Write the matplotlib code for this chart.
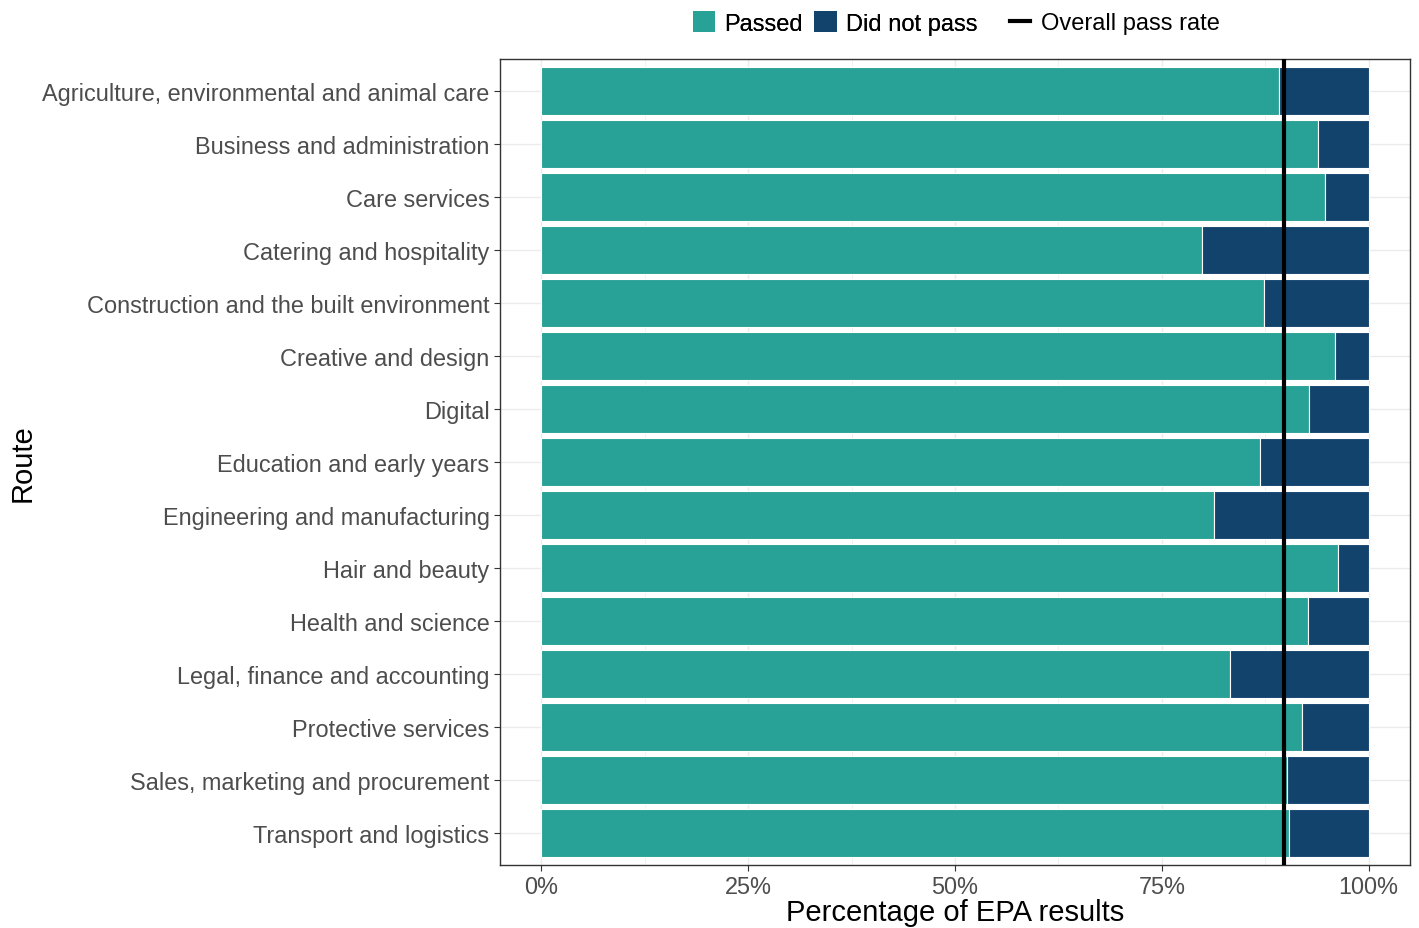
import matplotlib
matplotlib.use("Agg")
import matplotlib.pyplot as plt
from matplotlib.patches import Patch
from matplotlib.lines import Line2D
from matplotlib.ticker import FixedLocator

plt.rcParams['font.family'] = ['Liberation Sans', 'DejaVu Sans']

routes = [
    "Agriculture, environmental and animal care",
    "Business and administration",
    "Care services",
    "Catering and hospitality",
    "Construction and the built environment",
    "Creative and design",
    "Digital",
    "Education and early years",
    "Engineering and manufacturing",
    "Hair and beauty",
    "Health and science",
    "Legal, finance and accounting",
    "Protective services",
    "Sales, marketing and procurement",
    "Transport and logistics",
]
passed = [89.2, 93.9, 94.7, 79.9, 87.3, 95.9, 92.8, 86.9, 81.3, 96.3, 92.7, 83.2, 91.9, 90.1, 90.4]
did_not_pass = [100 - p for p in passed]
overall_pass_rate = 89.8
x_ticks = [0, 25, 50, 75, 100]
x_tick_labels = ["0%", "25%", "50%", "75%", "100%"]

teal = "#28A197"
navy = "#12436D"

fig = plt.figure(figsize=(14.19, 9.29), dpi=100)
ax = fig.add_axes([500/1419, 1-866/929, 910/1419, 806/929])

n = len(routes)
ypos = list(range(n, 0, -1))
ax.barh(ypos, passed, height=0.9, color=teal, edgecolor="white", linewidth=0.8, zorder=2)
ax.barh(ypos, did_not_pass, left=passed, height=0.9, color=navy, edgecolor="white", linewidth=0.8, zorder=2)
ax.axvline(overall_pass_rate, color="black", linewidth=3, zorder=3)

ax.set_xlim(-5, 105)
ax.set_ylim(0.4, n + 0.6)
ax.set_yticks(ypos)
ax.set_yticklabels(routes)
ax.xaxis.set_major_locator(FixedLocator(x_ticks))
ax.xaxis.set_minor_locator(FixedLocator([12.5, 37.5, 62.5, 87.5]))
ax.set_xticklabels(x_tick_labels)
ax.grid(True, which="major", color="#EBEBEB", linewidth=1.0, zorder=0)
ax.grid(True, which="minor", axis="x", color="#EBEBEB", linewidth=0.5, zorder=0)
ax.set_axisbelow(True)
ax.tick_params(axis="both", which="major", colors="#333333", labelcolor="#4D4D4D",
               labelsize=16.9, length=4, width=0.8)
ax.tick_params(axis="x", which="major", pad=3)
ax.tick_params(axis="both", which="minor", length=0)
for s in ax.spines.values():
    s.set_color("#333333")
    s.set_linewidth(1.0)

ax.set_xlabel("Percentage of EPA results", fontsize=21, color="black", labelpad=0)
ax.set_ylabel("Route", fontsize=21, color="black")
ax.yaxis.set_label_coords(-0.509, 0.5)

h1 = [Patch(facecolor=teal, edgecolor="none"), Patch(facecolor=navy, edgecolor="none")]
leg1 = fig.legend(h1, ["Passed", "Did not pass"], loc="center left",
                  bbox_to_anchor=(693/1419, 1-24/929), ncol=2, frameon=False,
                  fontsize=17, handlelength=0.95, handleheight=0.95, handletextpad=0.38,
                  columnspacing=0.47, borderaxespad=0, borderpad=0)
h2 = [Line2D([0], [0], color="black", linewidth=3)]
leg2 = fig.legend(h2, ["Overall pass rate"], loc="center left",
                  bbox_to_anchor=(1010/1419, 1-24/929), frameon=False,
                  fontsize=17, handlelength=0.85, handletextpad=0.47,
                  borderaxespad=0, borderpad=0)
fig.add_artist(leg1)

fig.savefig("out.png", dpi=100)
